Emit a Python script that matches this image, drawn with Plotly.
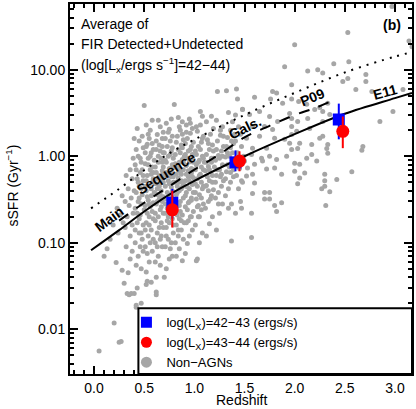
import math
import plotly.graph_objs as go

# curves (redshift, sSFR in Gyr^-1)
e11_z = [-0.03, 0.25, 0.5, 0.75, 1.0, 1.5, 2.0, 2.5, 3.0, 3.17]
e11_ssfr = [0.082, 0.14, 0.23, 0.36, 0.52, 1.0, 1.8, 3.1, 4.7, 5.4]
sb_ssfr = [0.25, 0.42, 0.69, 1.08, 1.56, 3.0, 5.4, 9.3, 14.2, 16.0]
p09_z = [0.25, 0.5, 0.75, 1.0, 1.25, 1.5, 1.75, 2.0, 2.2, 2.38]
p09_ssfr = [0.18, 0.29, 0.45, 0.70, 1.05, 1.65, 2.25, 3.0, 3.6, 4.4]

# averaged AGN hosts
agn_lo_z = [0.78, 1.41, 2.44]
agn_lo_ssfr = [0.29, 0.85, 2.66]
agn_lo_err_hi = [0.13, 0.32, 1.40]
agn_lo_err_lo = [0.10, 0.18, 1.09]
agn_hi_z = [0.78, 1.45, 2.48]
agn_hi_ssfr = [0.24, 0.88, 1.94]
agn_hi_err_hi = [0.16, 0.26, 0.94]
agn_hi_err_lo = [0.09, 0.21, 0.70]

# non-AGN galaxies (z, sSFR)
nonagn_points = [
    (0.05, 0.0056), (0.13, 0.085), (0.20, 0.0118), (0.16, 0.11), (0.19, 0.16), (0.10, 0.07),
    (0.22, 0.059), (0.25, 0.0071), (0.27, 0.0072), (0.28, 0.048), (0.24, 0.13), (0.26, 0.21),
    (0.29, 0.17), (0.23, 0.25), (0.28, 0.35), (0.30, 0.034),
    (0.33, 0.026), (0.35, 0.025), (0.37, 0.026), (0.34, 0.045), (0.32, 0.09), (0.36, 0.12),
    (0.38, 0.08), (0.31, 0.15), (0.33, 0.2), (0.35, 0.27), (0.37, 0.33), (0.39, 0.22),
    (0.34, 0.42), (0.38, 0.55), (0.36, 0.7), (0.39, 0.95), (0.32, 0.6), (0.40, 0.4),
    (0.38, 0.16), (0.31, 0.3), (0.40, 0.026), (0.36, 0.065),
    (0.42, 0.019), (0.42, 0.018), (0.43, 0.030), (0.47, 0.020), (0.47, 0.05), (0.44, 0.07),
    (0.41, 0.1), (0.45, 0.13), (0.48, 0.11), (0.43, 0.17), (0.46, 0.21), (0.49, 0.16),
    (0.41, 0.25), (0.44, 0.3), (0.47, 0.28), (0.42, 0.38), (0.45, 0.45), (0.48, 0.36),
    (0.43, 0.55), (0.46, 0.65), (0.49, 0.52), (0.41, 0.8), (0.44, 1.0), (0.47, 0.85),
    (0.49, 1.25), (0.45, 1.5), (0.42, 1.2), (0.48, 0.7), (0.50, 0.24), (0.46, 0.09),
    (0.52, 0.033), (0.53, 0.036), (0.52, 0.046), (0.57, 0.035), (0.55, 0.06), (0.58, 0.08),
    (0.51, 0.09), (0.54, 0.12), (0.57, 0.14), (0.59, 0.11), (0.52, 0.17), (0.55, 0.2),
    (0.58, 0.23), (0.51, 0.27), (0.54, 0.31), (0.57, 0.35), (0.59, 0.29), (0.52, 0.4),
    (0.55, 0.46), (0.58, 0.5), (0.53, 0.6), (0.56, 0.7), (0.59, 0.65), (0.51, 0.82),
    (0.54, 0.95), (0.57, 1.1), (0.60, 0.9), (0.52, 1.3), (0.55, 1.6), (0.58, 1.4),
    (0.53, 1.38), (0.56, 2.0), (0.50, 3.85), (0.59, 0.19), (0.56, 0.26), (0.53, 0.075),
    (0.62, 0.025), (0.62, 0.027), (0.62, 0.040), (0.66, 0.055), (0.64, 0.07), (0.68, 0.09),
    (0.61, 0.1), (0.63, 0.13), (0.67, 0.12), (0.69, 0.15), (0.61, 0.18), (0.64, 0.2),
    (0.66, 0.24), (0.69, 0.22), (0.62, 0.28), (0.65, 0.32), (0.68, 0.3), (0.61, 0.37),
    (0.63, 0.42), (0.67, 0.4), (0.69, 0.5), (0.62, 0.55), (0.65, 0.6), (0.68, 0.68),
    (0.61, 0.75), (0.64, 0.85), (0.67, 0.95), (0.69, 1.1), (0.62, 1.2), (0.65, 1.35),
    (0.68, 1.6), (0.63, 1.78), (0.66, 2.2), (0.69, 1.9), (0.64, 0.48), (0.67, 0.17),
    (0.63, 0.09), (0.66, 0.36),
    (0.70, 0.040), (0.72, 0.05), (0.75, 0.065), (0.78, 0.07), (0.71, 0.09), (0.74, 0.11),
    (0.77, 0.1), (0.79, 0.13), (0.72, 0.15), (0.75, 0.17), (0.78, 0.19), (0.71, 0.22),
    (0.73, 0.25), (0.76, 0.28), (0.79, 0.26), (0.72, 0.32), (0.75, 0.36), (0.78, 0.4),
    (0.71, 0.45), (0.74, 0.52), (0.77, 0.58), (0.79, 0.5), (0.72, 0.65), (0.75, 0.72),
    (0.78, 0.8), (0.71, 0.9), (0.74, 1.0), (0.77, 1.15), (0.79, 0.95), (0.73, 1.3),
    (0.76, 1.5), (0.75, 2.05), (0.78, 1.7), (0.72, 2.4), (0.80, 3.96), (0.74, 0.2),
    (0.77, 0.34), (0.70, 0.6),
    (0.88, 0.062), (0.82, 0.07), (0.85, 0.085), (0.81, 0.1), (0.84, 0.12), (0.87, 0.14),
    (0.89, 0.11), (0.82, 0.16), (0.85, 0.19), (0.88, 0.21), (0.81, 0.24), (0.83, 0.27),
    (0.86, 0.3), (0.89, 0.33), (0.82, 0.36), (0.85, 0.4), (0.88, 0.44), (0.81, 0.5),
    (0.84, 0.56), (0.87, 0.62), (0.89, 0.7), (0.82, 0.75), (0.85, 0.85), (0.88, 0.92),
    (0.81, 1.05), (0.84, 1.2), (0.87, 1.35), (0.89, 1.55), (0.83, 1.7), (0.86, 2.0),
    (0.88, 2.5), (0.84, 2.8), (0.86, 0.23), (0.83, 0.45), (0.87, 0.52), (0.90, 0.17),
    (0.93, 0.098), (0.91, 0.075), (0.95, 0.12), (0.98, 0.14), (0.92, 0.17), (0.96, 0.2),
    (0.99, 0.23), (0.91, 0.26), (0.94, 0.29), (0.97, 0.33), (0.92, 0.38), (0.95, 0.42),
    (0.98, 0.47), (0.91, 0.52), (0.94, 0.58), (0.97, 0.64), (0.99, 0.7), (0.92, 0.78),
    (0.95, 0.86), (0.98, 0.95), (0.91, 1.05), (0.94, 1.15), (0.97, 1.3), (0.99, 1.45),
    (0.93, 1.6), (0.96, 1.85), (0.98, 2.1), (0.92, 2.3), (0.95, 2.7), (0.97, 0.31),
    (0.94, 0.18), (1.00, 0.55),
    (1.02, 0.062), (1.03, 0.065), (1.05, 0.1), (1.08, 0.13), (1.01, 0.16), (1.04, 0.2),
    (1.07, 0.24), (1.09, 0.28), (1.02, 0.32), (1.05, 0.36), (1.08, 0.42), (1.01, 0.48),
    (1.03, 0.55), (1.06, 0.62), (1.09, 0.7), (1.02, 0.8), (1.05, 0.9), (1.08, 1.0),
    (1.01, 1.15), (1.04, 1.3), (1.07, 1.45), (1.09, 1.7), (1.03, 1.95), (1.08, 2.9),
    (1.06, 2.3), (1.04, 0.27), (1.07, 0.5), (1.10, 0.85),
    (1.15, 0.166), (1.12, 0.12), (1.18, 0.2), (1.11, 0.25), (1.14, 0.3), (1.17, 0.35),
    (1.19, 0.41), (1.12, 0.46), (1.15, 0.52), (1.18, 0.6), (1.11, 0.68), (1.14, 0.76),
    (1.17, 0.85), (1.19, 0.95), (1.12, 1.05), (1.15, 1.2), (1.18, 1.35), (1.13, 1.55),
    (1.16, 1.8), (1.19, 2.1), (1.12, 2.5), (1.17, 2.9), (1.14, 0.4), (1.20, 0.75),
    (1.22, 0.14), (1.25, 0.22), (1.28, 0.28), (1.21, 0.33), (1.24, 0.38), (1.27, 0.45),
    (1.29, 0.52), (1.22, 0.6), (1.25, 0.7), (1.28, 0.8), (1.21, 0.9), (1.24, 1.02),
    (1.27, 1.15), (1.29, 1.3), (1.23, 1.5), (1.26, 1.75), (1.23, 5.6), (1.28, 2.2),
    (1.22, 2.6), (1.26, 0.58),
    (1.37, 0.28), (1.37, 0.105), (1.32, 5.7), (1.31, 0.35), (1.34, 0.42), (1.36, 0.5),
    (1.39, 0.58), (1.32, 0.66), (1.35, 0.75), (1.38, 0.85), (1.31, 0.98), (1.33, 1.1),
    (1.36, 1.25), (1.39, 1.4), (1.33, 1.65), (1.36, 2.0), (1.38, 2.5), (1.34, 3.2),
    (1.42, 6.0), (1.43, 4.6), (1.41, 3.0), (1.48, 3.5), (1.44, 2.2), (1.46, 1.8),
    (1.41, 1.5), (1.47, 1.3), (1.43, 1.1), (1.49, 1.0), (1.45, 0.72), (1.42, 0.6),
    (1.48, 0.5), (1.44, 0.42), (1.46, 0.3), (1.41, 0.22),
    (2.97, 54.0), (2.53, 27.0), (3.14, 21.5), (3.17, 18.4), (2.00, 19.4), (2.54, 12.4),
    (1.90, 10.8), (2.39, 11.7), (2.13, 9.7), (2.23, 10.0), (2.28, 9.2), (2.48, 7.3),
    (2.53, 7.9), (2.71, 8.8), (2.71, 7.3), (1.97, 6.7), (2.61, 5.9), (2.77, 5.6),
    (3.08, 5.9), (1.78, 5.6), (1.82, 5.4), (1.60, 4.8), (1.76, 4.6), (1.97, 4.6),
    (1.88, 4.1), (2.04, 4.3), (2.12, 4.0), (2.25, 3.66), (2.33, 4.1), (2.20, 3.47),
    (2.98, 3.29), (2.85, 2.52), (1.48, 3.47), (1.55, 3.04), (1.65, 3.3), (1.75, 2.88),
    (1.95, 3.12), (1.97, 2.73), (1.83, 2.52), (2.03, 2.52), (2.13, 2.73), (2.28, 3.29),
    (2.28, 2.52), (2.35, 3.04), (1.58, 2.21), (1.70, 2.21), (1.78, 2.04), (1.97, 2.21),
    (2.02, 1.94), (2.15, 2.09), (1.52, 1.61), (1.65, 1.70), (1.80, 1.61), (1.97, 1.79),
    (1.90, 1.57), (2.05, 1.41), (2.25, 1.61), (2.28, 1.70), (2.33, 1.37), (2.68, 1.30),
    (2.67, 1.17), (1.58, 1.24), (1.72, 1.24), (1.95, 1.41), (1.97, 1.20), (2.03, 1.23),
    (2.17, 1.37), (2.32, 1.23), (2.33, 1.08), (1.57, 1.05), (1.67, 0.95), (1.75, 1.0),
    (1.92, 1.0), (2.12, 0.95), (2.17, 1.05), (1.60, 0.81), (1.68, 0.88), (1.82, 0.92),
    (2.00, 0.83), (2.05, 0.81), (2.22, 0.88), (1.50, 0.88), (1.53, 0.73), (1.72, 0.71),
    (1.80, 0.73), (1.87, 0.62), (2.00, 0.67), (2.10, 0.64), (2.30, 0.62), (2.57, 0.66),
    (1.58, 0.62), (1.52, 0.59), (1.47, 0.52), (1.60, 0.49), (2.05, 0.56), (2.30, 0.52),
    (2.42, 0.54), (2.03, 0.48), (2.30, 0.45), (2.27, 0.42), (2.35, 0.39), (1.70, 0.38),
    (1.75, 0.38), (1.58, 0.37), (1.70, 0.32), (1.75, 0.32), (1.87, 0.29), (1.80, 0.27),
    (1.82, 0.23), (1.47, 0.25), (1.57, 0.22), (2.31, 0.27), (1.57, 0.115),
]

# extra galaxies in the crowded core of the cloud
nonagn_core_points = [
    (0.41, 0.14), (0.43, 0.22), (0.45, 0.33), (0.47, 0.42), (0.49, 0.6), (0.42, 0.7),
    (0.44, 0.5), (0.46, 0.95), (0.48, 1.7), (0.43, 2.1), (0.40, 1.6), (0.45, 0.19),
    (0.47, 0.13), (0.49, 0.08), (0.42, 0.055),
    (0.51, 0.14), (0.53, 0.22), (0.55, 0.28), (0.57, 0.42), (0.59, 0.55), (0.52, 0.52),
    (0.54, 0.8), (0.56, 1.0), (0.58, 0.75), (0.51, 1.1), (0.53, 0.34), (0.55, 0.16),
    (0.57, 0.62), (0.59, 1.2), (0.54, 1.8), (0.58, 2.6), (0.52, 2.3), (0.56, 0.1),
    (0.60, 0.38), (0.51, 0.45),
    (0.61, 0.22), (0.63, 0.3), (0.65, 0.45), (0.67, 0.55), (0.69, 0.75), (0.62, 0.65),
    (0.64, 1.0), (0.66, 1.15), (0.68, 0.85), (0.61, 0.48), (0.63, 0.36), (0.65, 0.15),
    (0.67, 0.26), (0.69, 0.34), (0.62, 1.5), (0.64, 2.6), (0.68, 1.3), (0.66, 0.11),
    (0.61, 0.06), (0.69, 0.62),
    (0.71, 0.28), (0.73, 0.38), (0.75, 0.48), (0.77, 0.66), (0.79, 0.74), (0.72, 0.85),
    (0.74, 0.62), (0.76, 1.05), (0.78, 1.25), (0.70, 1.1), (0.73, 0.18), (0.75, 0.24),
    (0.77, 0.44), (0.79, 0.58), (0.71, 1.6), (0.74, 1.9), (0.77, 2.7), (0.79, 0.16),
    (0.72, 0.12), (0.76, 0.085),
    (0.81, 0.3), (0.83, 0.38), (0.85, 0.5), (0.87, 0.42), (0.89, 0.85), (0.82, 0.62),
    (0.84, 0.72), (0.86, 1.1), (0.88, 1.25), (0.81, 0.82), (0.83, 0.21), (0.85, 0.27),
    (0.87, 0.18), (0.89, 0.48), (0.82, 1.45), (0.85, 2.2), (0.88, 1.8), (0.84, 0.14),
    (0.86, 0.66), (0.90, 1.0),
    (0.91, 0.35), (0.93, 0.44), (0.95, 0.52), (0.97, 0.72), (0.99, 0.85), (0.92, 0.62),
    (0.94, 0.95), (0.96, 1.2), (0.98, 1.05), (0.91, 1.4), (0.93, 0.24), (0.95, 0.3),
    (0.97, 0.2), (0.99, 0.38), (0.92, 1.9), (0.96, 2.4), (0.94, 0.68), (0.98, 0.58),
    (1.01, 0.38), (1.03, 0.45), (1.05, 0.6), (1.07, 0.75), (1.09, 0.95), (1.02, 1.05),
    (1.04, 0.85), (1.06, 1.2), (1.08, 1.6), (1.01, 0.7), (1.03, 0.26), (1.05, 0.2),
    (1.07, 0.33), (1.09, 0.45), (1.02, 2.2), (1.06, 3.3),
    (1.11, 0.45), (1.13, 0.58), (1.15, 0.7), (1.17, 0.95), (1.19, 1.15), (1.12, 0.85),
    (1.14, 1.4), (1.16, 0.32), (1.18, 0.5), (1.21, 0.5), (1.23, 0.7), (1.25, 0.95),
    (1.27, 0.62), (1.29, 1.7), (1.22, 1.2), (1.24, 0.28), (1.26, 2.0), (1.28, 1.0),
    (1.31, 0.55), (1.33, 0.8), (1.35, 1.0), (1.37, 1.5), (1.39, 0.7), (1.32, 1.3),
    (1.34, 0.25), (1.36, 0.65), (1.38, 1.1), (1.40, 1.8),
]

y_ticks = [0.01, 0.1, 1, 10]
y_ticktext = ["0.01", "0.10", "1.00", "10.00"]
x_ticks = [0.0, 0.5, 1.0, 1.5, 2.0, 2.5, 3.0]

FONT = "Liberation Sans"
GRAY = "#a6a6a6"


def minor_log_ticks():
    vals = []
    for dec in [0.001, 0.01, 0.1, 1, 10]:
        for m in range(2, 10):
            vals.append(m * dec)
    return vals


def main():
    all_points = nonagn_points + nonagn_core_points
    nonagn_z = [p[0] for p in all_points]
    nonagn_ssfr = [p[1] for p in all_points]

    fig = go.Figure()

    # non-AGN cloud
    fig.add_trace(go.Scatter(
        x=nonagn_z, y=nonagn_ssfr, mode='markers',
        marker=dict(color=GRAY, size=5), showlegend=False))

    # main sequence relations
    fig.add_trace(go.Scatter(
        x=e11_z, y=sb_ssfr, mode='lines', line_shape='spline',
        line=dict(color='black', width=2, dash='2px,6px'), showlegend=False))
    fig.add_trace(go.Scatter(
        x=p09_z, y=p09_ssfr, mode='lines', line_shape='spline',
        line=dict(color='black', width=2, dash='11px,10px'), showlegend=False))
    fig.add_trace(go.Scatter(
        x=e11_z, y=e11_ssfr, mode='lines', line_shape='spline',
        line=dict(color='black', width=2), showlegend=False))

    # AGN averages
    fig.add_trace(go.Scatter(
        x=agn_lo_z, y=agn_lo_ssfr, mode='markers',
        marker=dict(color='#0000ff', size=12, symbol='square'),
        error_y=dict(type='data', array=agn_lo_err_hi, arrayminus=agn_lo_err_lo,
                     color='#0000ff', thickness=2, width=0),
        showlegend=False))
    fig.add_trace(go.Scatter(
        x=agn_hi_z, y=agn_hi_ssfr, mode='markers',
        marker=dict(color='#ff0000', size=13, symbol='circle'),
        error_y=dict(type='data', array=agn_hi_err_hi, arrayminus=agn_hi_err_lo,
                     color='#ff0000', thickness=2, width=0),
        showlegend=False))

    # legend entries
    legend_items = [
        ("log(L<sub>X</sub>)=42\u221243 (ergs/s)", '#0000ff', 'square'),
        ("log(L<sub>X</sub>)=43\u221244 (ergs/s)", '#ff0000', 'circle'),
        ("Non\u2212AGNs", GRAY, 'circle'),
    ]
    for name, color, symbol in legend_items:
        fig.add_trace(go.Scatter(
            x=[None], y=[None], mode='markers', name=name,
            marker=dict(color=color, size=11, symbol=symbol)))

    axis_common = dict(
        showline=True, linewidth=2, linecolor='black', mirror='ticks',
        ticks='inside', tickwidth=2, tickcolor='black', ticklen=8,
        showgrid=False, zeroline=False,
        tickfont=dict(family=FONT, size=14, color='black'),
    )

    fig.update_xaxes(
        range=[-0.24, 3.17], tickvals=x_ticks, ticktext=[f"{v:.1f}" for v in x_ticks],
        minor=dict(ticks='inside', ticklen=4, tickwidth=2, tickcolor='black', dtick=0.1, tick0=0),
        **axis_common)
    fig.update_yaxes(
        type='log', range=[-2.517, 1.76], tickvals=y_ticks, ticktext=y_ticktext,
        minor=dict(ticks='inside', ticklen=4, tickwidth=2, tickcolor='black',
                   tickmode='array', tickvals=minor_log_ticks()),
        **axis_common)

    text_font = dict(family=FONT, size=14, color='black')
    bold_font = dict(family=FONT, size=14, color='black', weight='bold')
    annotations = [
        dict(text="Average of", x=0.026, y=0.945),
        dict(text="FIR Detected+Undetected", x=0.026, y=0.892),
        dict(text="(log[L<sub>x</sub>/ergs s<sup>\u22121</sup>]=42\u221244)", x=0.026, y=0.834),
    ]
    for a in annotations:
        fig.add_annotation(xref='paper', yref='paper', xanchor='left', yanchor='middle',
                           showarrow=False, font=text_font, **a)

    fig.add_annotation(text="(b)", xref='paper', yref='paper', x=0.942, y=0.943,
                       xanchor='center', yanchor='middle', showarrow=False, font=bold_font)

    # labels along the curves (log axis wants log10 of the position)
    curve_labels = [
        ("Main", 0.15, 0.19, -37),
        ("Sequence", 0.72, 0.64, -32),
        ("Gals.", 1.50, 2.1, -26),
        ("P09", 2.18, 4.8, -22),
        ("E11", 2.90, 5.6, -15),
    ]
    for txt, zx, sy, ang in curve_labels:
        fig.add_annotation(text=txt, x=zx, y=math.log10(sy), yref='y', xref='x',
                           showarrow=False, textangle=ang, font=bold_font)

    fig.add_annotation(text="sSFR (Gyr<sup>\u22121</sup>)", xref='paper', yref='paper',
                       x=-0.169, y=0.51, textangle=-90, showarrow=False,
                       xanchor='center', yanchor='middle', font=text_font)
    fig.add_annotation(text="Redshift", xref='paper', yref='paper', x=0.5, y=-0.071,
                       showarrow=False, xanchor='center', yanchor='middle', font=text_font)

    # legend frame
    fig.add_shape(type='rect', xref='paper', yref='paper', x0=0.2, x1=1.0, y0=0.0, y1=0.178,
                  line=dict(color='black', width=2), fillcolor='white', layer='above')

    fig.update_layout(
        width=416, height=409,
        margin=dict(l=70, r=2, t=2, b=35),
        paper_bgcolor='white', plot_bgcolor='white',
        showlegend=True,
        legend=dict(x=0.165, y=0.18, xanchor='left', yanchor='top',
                    bgcolor='rgba(0,0,0,0)', borderwidth=0,
                    font=dict(family=FONT, size=13, color='black'),
                    itemwidth=30, tracegroupgap=0),
    )

    fig.write_html("out.html", config={'displayModeBar': False},
                   post_script="document.body.style.margin='0px';")


if __name__ == '__main__':
    main()
